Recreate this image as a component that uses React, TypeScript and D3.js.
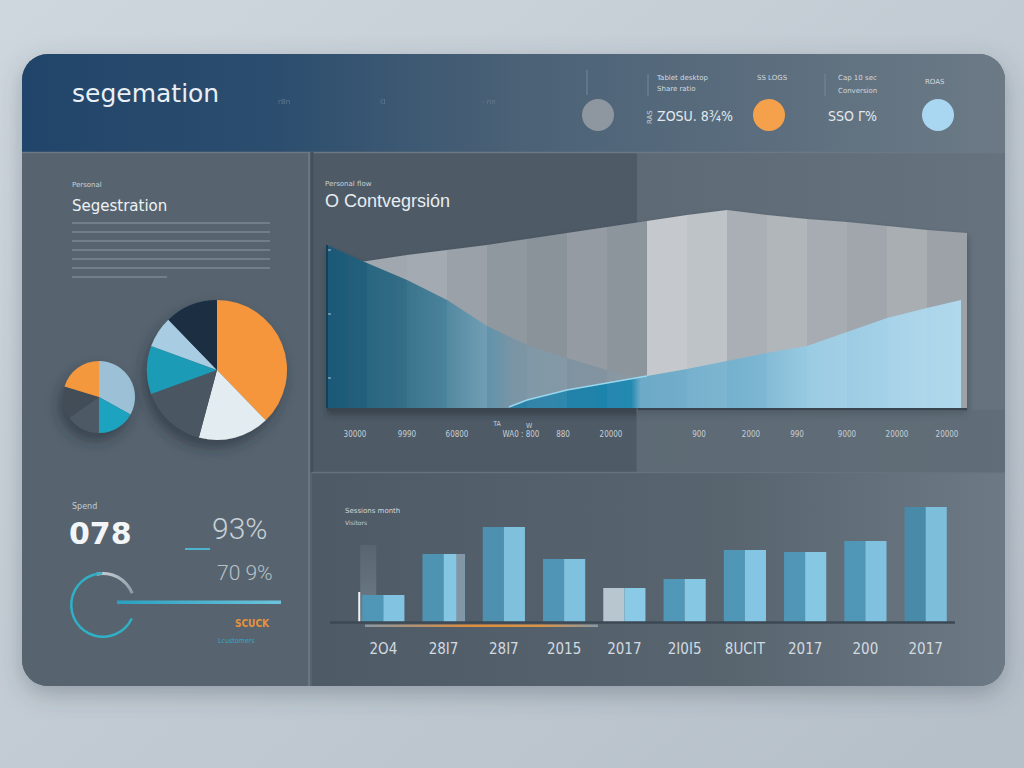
import React from "react";
import * as d3 from "d3";

// ---------- header stats ----------
const headerTitle = "segemation";
const headerTopLabels = ["Tablet desktop", "SS LOGS", "Cap 10 sec", "ROAS"];
const headerSubLabels = ["Share ratio", "", "Conversion", ""];
const headerValues = ["ZOSU. 8¾%", "SSO Γ%"];
const headerDotColors = ["#8e979f", "#f5a14c", "#a9d6f0"];

// ---------- segmentation pies ----------
const bigPieNames = ["A", "B", "C", "D", "E", "F"];
const bigPieValues = [136, 59, 55, 40, 26, 44];
const bigPieColors = ["#f5963c", "#e3ecf1", "#4b5763", "#1e9bb6", "#a8cde2", "#1b2e43"];
const smallPieValues = [119, 61, 55, 52, 73];
const smallPieColors = ["#9cc1d6", "#1fa3bf", "#4e5a66", "#434e59", "#f4983e"];

// ---------- conversion chart ----------
const convGray = [71.5, 73.5, 76.5, 79, 81.5, 84.5, 87.5, 90.5, 93.5, 96.5, 99, 96.5, 94.5, 93, 91, 89, 87.5];
const convTeal = [81.5, 72.5, 64, 54, 41, 31.5, 25, 19, 14];
const convBlueAt = [4.55, 5, 6, 7, 8, 9, 10, 11, 12, 13, 14, 15, 15.85];
const convBlue = [0.5, 4, 9, 12.5, 16, 19.5, 23.5, 27.5, 31, 38, 45, 50, 54];
const convStripeShades = ["#9aa2a9", "#a0a7ae", "#a3aab1", "#9aa1a8", "#8f979f", "#8a929a", "#949ba2", "#8d959c", "#c5c9ce", "#bec3c8", "#a9afb5", "#b1b6bb", "#a6acb2", "#a0a6ac", "#a9aeb3", "#9ca2a8"];
const convStripeGlow = [0, 0.04, 0.07, 0.12, 0.02, 0.05, 0, 0.04, 0.03, 0.06, 0, 0.05, 0.09, 0.03, 0.06, 0.02];
const convTickAt = [0.7, 2.0, 3.25, 4.85, 5.9, 7.1, 9.3, 10.6, 11.75, 13.0, 14.25, 15.5];
const convTickLabels = ["30000", "9990", "60800", "WA0 : 800", "880", "20000", "900", "2000", "990", "9000", "20000", "20000"];

// ---------- sessions bars ----------
const barYears = ["2O4", "28I7", "28I7", "2015", "2017", "2I0I5", "8UCIT", "2017", "200", "2017"];
const barValues = [27, 68, 95, 63, 34, 43, 72, 70, 81, 115];
const barLeftColors = ["#5096b6", "#4f93b3", "#4d90b0", "#5095b5", "#b7c6cf", "#5197b7", "#5096b6", "#5096b6", "#5097b7", "#4a8aa9"];
const barRightColors = ["#82c3e1", "#85c6e3", "#7fc0dd", "#80c1df", "#8acae6", "#86c7e4", "#84c5e3", "#86c7e4", "#80c1df", "#7dbedb"];

// ---------- KPI block ----------
const kpiLabel = "Spend";
const kpiValue = "078";
const kpiPct1 = "93%";
const kpiPct2 = "70 9%";
const kpiNote1 = "SCUCK";
const kpiNote2 = "Lcustomers";
const gaugeValue = 0.68;

export default function App() {
  // pies
  const bigPie = d3.pie<number>().sort(null).value((d) => d)(bigPieValues);
  const bigArc = d3.arc<d3.PieArcDatum<number>>().innerRadius(0).outerRadius(70);
  const smallPie = d3.pie<number>().sort(null).value((d) => d)(smallPieValues);
  const smallArc = d3.arc<d3.PieArcDatum<number>>().innerRadius(0).outerRadius(36);

  // conversion chart scales
  const cx = d3.scaleLinear().domain([0, 16]).range([327, 967]);
  const cy = d3.scaleLinear().domain([0, 100]).range([408, 208]);
  const grayPath = d3.area<number>().x((_, i) => cx(i)).y0(cy(0)).y1((d) => cy(d))(convGray) || "";
  const grayLine = d3.line<number>().x((_, i) => cx(i)).y((d) => cy(d))(convGray.slice(1)) ;
  const tealPath = d3.area<number>().x((_, i) => cx(i)).y0(cy(0)).y1((d) => cy(d))(convTeal) || "";
  const bluePath = d3.area<number>().x((_, i) => cx(convBlueAt[i])).y0(cy(0)).y1((d) => cy(d))(convBlue) || "";
  const blueLine = d3.line<number>().x((_, i) => cx(convBlueAt[i])).y((d) => cy(d))(convBlue.slice(0, 5)) || "";

  // bars
  const bx = d3.scaleBand<number>().domain(d3.range(barValues.length)).range([355, 954]).paddingInner(0.3).paddingOuter(0.12);
  const by = d3.scaleLinear().domain([0, 120]).range([622, 502]);
  const bw = bx.bandwidth();

  // gauge
  const gaugeTeal = d3.arc()({ innerRadius: 30.5, outerRadius: 33, startAngle: (115 * Math.PI) / 180, endAngle: (115 + 245 * gaugeValue / 0.68 * 0.995) * Math.PI / 180 }) || "";
  const gaugeGray = d3.arc()({ innerRadius: 30, outerRadius: 33, startAngle: (-12 * Math.PI) / 180, endAngle: (68 * Math.PI) / 180 }) || "";

  const sans = "'DejaVu Sans', 'Open Sans', sans-serif";
  const arial = "'Liberation Sans', Arial, sans-serif";
  const narrow = "'Liberation Sans Narrow', 'DejaVu Sans Condensed', 'Liberation Sans', sans-serif";

  return (
    <div style={{ position: "fixed", left: 0, top: 0, width: 1024, height: 768 }}>
      <svg width={1024} height={768} viewBox="0 0 1024 768" style={{ display: "block" }}>
        <defs>
          <linearGradient id="pageBg" x1="0" y1="0" x2="1" y2="1">
            <stop offset="0%" stopColor="#cfd7de" />
            <stop offset="100%" stopColor="#b5bfc8" />
          </linearGradient>
          <linearGradient id="headerBg" x1="0" y1="0" x2="1" y2="0">
            <stop offset="0%" stopColor="#21456a" />
            <stop offset="25%" stopColor="#2b4d6e" />
            <stop offset="50%" stopColor="#4a6176" />
            <stop offset="100%" stopColor="#6c7a86" />
          </linearGradient>
          <linearGradient id="topRightBg" x1="0" y1="0" x2="1" y2="0">
            <stop offset="0%" stopColor="#56636f" />
            <stop offset="100%" stopColor="#66737e" />
          </linearGradient>
          <linearGradient id="bottomRightBg" x1="0" y1="0" x2="1" y2="0">
            <stop offset="0%" stopColor="#4e5b67" />
            <stop offset="60%" stopColor="#58656f" />
            <stop offset="100%" stopColor="#6d7a85" />
          </linearGradient>
          <linearGradient id="tealFill" x1="327" y1="0" x2="647" y2="0" gradientUnits="userSpaceOnUse">
            <stop offset="0%" stopColor="#1c5877" />
            <stop offset="22%" stopColor="#28667f" />
            <stop offset="38%" stopColor="#3e7b96" />
            <stop offset="50%" stopColor="#5e91aa" />
            <stop offset="58%" stopColor="#7893a4" />
            <stop offset="100%" stopColor="#88949e" />
          </linearGradient>
          <linearGradient id="blueFill" x1="509" y1="0" x2="962" y2="0" gradientUnits="userSpaceOnUse">
            <stop offset="0%" stopColor="#2a7ea3" />
            <stop offset="27%" stopColor="#1b85ae" />
            <stop offset="29%" stopColor="#67a7c5" />
            <stop offset="55%" stopColor="#7ab5d1" />
            <stop offset="65%" stopColor="#90c6e0" />
            <stop offset="100%" stopColor="#b1d9ed" />
          </linearGradient>
          <linearGradient id="gaugeBar" x1="0" y1="0" x2="1" y2="0">
            <stop offset="0%" stopColor="#2aa0c0" />
            <stop offset="100%" stopColor="#6dc3dc" />
          </linearGradient>
          <linearGradient id="orangeUnder" x1="0" y1="0" x2="1" y2="0">
            <stop offset="0%" stopColor="#8a97a3" />
            <stop offset="45%" stopColor="#e08c3b" />
            <stop offset="75%" stopColor="#d99447" />
            <stop offset="100%" stopColor="#8a97a3" />
          </linearGradient>
          <linearGradient id="ghostBar" x1="0" y1="0" x2="0" y2="1">
            <stop offset="0%" stopColor="#8a98a5" stopOpacity="0.15" />
            <stop offset="100%" stopColor="#8a98a5" stopOpacity="0.55" />
          </linearGradient>
          <linearGradient id="gaugeGrayGrad" x1="0" y1="0" x2="1" y2="1">
            <stop offset="0%" stopColor="#c9d0d6" />
            <stop offset="100%" stopColor="#8c98a2" />
          </linearGradient>
          <filter id="panelShadow" x="-10%" y="-10%" width="120%" height="130%">
            <feDropShadow dx="0" dy="8" stdDeviation="12" floodColor="#3a4652" floodOpacity="0.35" />
          </filter>
          <filter id="pieShadow" x="-40%" y="-40%" width="180%" height="180%">
            <feDropShadow dx="-4" dy="8" stdDeviation="7" floodColor="#222b34" floodOpacity="0.55" />
          </filter>
          <filter id="chartShadow" x="-5%" y="-5%" width="110%" height="120%">
            <feDropShadow dx="0" dy="4" stdDeviation="3" floodColor="#1f2830" floodOpacity="0.5" />
          </filter>
          <clipPath id="panelClip">
            <rect x={22} y={54} width={983} height={632} rx={26} ry={26} />
          </clipPath>
          <clipPath id="grayClip">
            <path d={grayPath} />
          </clipPath>
          <clipPath id="colorClip">
            <path d={tealPath} />
            <path d={bluePath} />
          </clipPath>
        </defs>

        {/* page background */}
        <rect x={0} y={0} width={1024} height={768} fill="url(#pageBg)" />

        {/* panel */}
        <rect x={22} y={54} width={983} height={632} rx={26} ry={26} fill="#57646f" filter="url(#panelShadow)" />
        <g clipPath="url(#panelClip)">
          <rect x={22} y={54} width={983} height={98} fill="url(#headerBg)" />
          <rect x={22} y={152} width={286} height={534} fill="#57646f" />
          <rect x={312} y={152} width={693} height={320} fill="url(#topRightBg)" />
          <rect x={312} y={152} width={325} height={320} fill="#4e5b67" />
          <rect x={312} y={472} width={693} height={214} fill="url(#bottomRightBg)" />
          <line x1={22} x2={1005} y1={152.5} y2={152.5} stroke="#6c7984" strokeWidth={1.5} />
          <line x1={309} x2={309} y1={152} y2={686} stroke="#6a7782" strokeWidth={2} />
          <line x1={312} x2={312} y1={152} y2={472} stroke="#44505b" strokeWidth={3} />
          <line x1={312} x2={1005} y1={472.5} y2={472.5} stroke="#66727d" strokeWidth={1.5} />
        </g>

        {/* header */}
        <text x={72} y={102} fontFamily={sans} fontSize={25} fill="#e9eff4">{headerTitle}</text>
        <text x={278} y={104} fontFamily={sans} fontSize={7} fill="#7f93a6" opacity={0.6}>rBn</text>
        <text x={380} y={104} fontFamily={sans} fontSize={9} fill="#8094a6" opacity={0.5}>ɑ</text>
        <text x={482} y={104} fontFamily={sans} fontSize={7} fill="#8094a6" opacity={0.5}>- nn</text>
        <line x1={587} x2={587} y1={70} y2={95} stroke="#7a8792" strokeWidth={1} />
        <line x1={648} x2={648} y1={74} y2={96} stroke="#7a8792" strokeWidth={1} />
        <line x1={825} x2={825} y1={74} y2={96} stroke="#7a8792" strokeWidth={1} />
        <circle cx={598} cy={115} r={16} fill={headerDotColors[0]} />
        <circle cx={769} cy={115} r={16} fill={headerDotColors[1]} />
        <circle cx={938} cy={115} r={16} fill={headerDotColors[2]} />
        <text x={657} y={80} fontFamily={sans} fontSize={7} fill="#d2d9df">{headerTopLabels[0]}</text>
        <text x={657} y={91} fontFamily={sans} fontSize={7} fill="#d2d9df">{headerSubLabels[0]}</text>
        <text x={757} y={80} fontFamily={sans} fontSize={7} fill="#d2d9df">{headerTopLabels[1]}</text>
        <text x={838} y={80} fontFamily={sans} fontSize={7} fill="#d2d9df">{headerTopLabels[2]}</text>
        <text x={838} y={93} fontFamily={sans} fontSize={7} fill="#d2d9df">{headerSubLabels[2]}</text>
        <text x={925} y={84} fontFamily={sans} fontSize={7} fill="#d2d9df">{headerTopLabels[3]}</text>
        <text x={0} y={0} transform="translate(652,124) rotate(-90)" fontFamily={sans} fontSize={7} fill="#c8d0d7">RAS</text>
        <text x={657} y={121} fontFamily={narrow} fontSize={14} fill="#e3e9ee">{headerValues[0]}</text>
        <text x={828} y={121} fontFamily={narrow} fontSize={14} fill="#e3e9ee">{headerValues[1]}</text>

        {/* segmentation */}
        <text x={72} y={187} fontFamily={sans} fontSize={7} fill="#c9d1d8">Personal</text>
        <text x={72} y={211} fontFamily={sans} fontSize={15} fill="#eef2f5">Segestration</text>
        {[223, 232, 241, 250, 259, 268].map((y) => (
          <line key={y} x1={72} x2={270} y1={y} y2={y} stroke="#8e9aa5" strokeWidth={1} />
        ))}
        <line x1={72} x2={167} y1={277} y2={277} stroke="#8e9aa5" strokeWidth={1} />

        <g filter="url(#pieShadow)">
          <g transform="translate(99,397)">
            {smallPie.map((d, i) => (
              <path key={i} d={smallArc(d) || ""} fill={smallPieColors[i]} />
            ))}
          </g>
        </g>
        <g filter="url(#pieShadow)">
          <g transform="translate(217,370)">
            {bigPie.map((d, i) => (
              <path key={bigPieNames[i]} d={bigArc(d) || ""} fill={bigPieColors[i]} />
            ))}
          </g>
        </g>

        {/* conversion chart */}
        <text x={325} y={186} fontFamily={sans} fontSize={7} fill="#c9d1d8">Personal flow</text>
        <text x={325} y={207} fontFamily={arial} fontSize={18} fill="#e8edf1">O Contvegrsión</text>

        <g filter="url(#chartShadow)">
          <rect x={cx(0)} y={cy(0)} width={cx(16) - cx(0)} height={3} fill="#3a4550" />
          <g clipPath="url(#grayClip)">
            {convStripeShades.map((c, i) => (
              <rect key={i} x={cx(i)} y={cy(100)} width={cx(i + 1) - cx(i) + 0.5} height={cy(0) - cy(100)} fill={c} />
            ))}
          </g>
          <path d={tealPath} fill="url(#tealFill)" />
          <path d={bluePath} fill="url(#blueFill)" />
          <g clipPath="url(#colorClip)">
            {convStripeGlow.map((o, i) => (
              <rect key={i} x={cx(i)} y={cy(100)} width={cx(i + 1) - cx(i)} height={cy(0) - cy(100)} fill="#ffffff" opacity={o} />
            ))}
          </g>
          <path d={blueLine} fill="none" stroke="#9ad6ee" strokeWidth={1.6} />
        </g>
        <line x1={cx(0)} x2={cx(0)} y1={cy(81.5)} y2={cy(0)} stroke="#163f57" strokeWidth={2} />
        {[250, 314, 378].map((y) => (
          <line key={y} x1={cx(0) + 1} x2={cx(0) + 4} y1={y} y2={y} stroke="#b9c6cf" strokeWidth={1} />
        ))}
        <line x1={637} x2={637} y1={408} y2={472} stroke="#5c6975" strokeWidth={1} />
        <rect x={637} y={410} width={368} height={62} fill="#5d6a75" opacity={0.6} />
        {convTickLabels.map((t, i) => (
          <text key={i} x={cx(convTickAt[i])} y={437} textAnchor="middle" fontFamily={narrow} fontSize={8} fill="#c5ced5">{t}</text>
        ))}
        <text x={497} y={426} textAnchor="middle" fontFamily={narrow} fontSize={7} fill="#c5ced5">TA</text>
        <text x={529} y={428} textAnchor="middle" fontFamily={narrow} fontSize={7} fill="#c5ced5">W</text>

        {/* KPI block */}
        <text x={72} y={509} fontFamily={sans} fontSize={8} fill="#c4ccd3">{kpiLabel}</text>
        <text x={69} y={544} fontFamily={sans} fontWeight="bold" fontSize={30} fill="#f3f6f8">{kpiValue}</text>
        <text x={212} y={539} fontFamily="Roboto, sans-serif" fontWeight={300} fontSize={30} fill="#c8d0d7">{kpiPct1}</text>
        <line x1={185} x2={210} y1={549} y2={549} stroke="#4eb4cd" strokeWidth={2} />
        <text x={217} y={580} fontFamily="Roboto, sans-serif" fontWeight={300} fontSize={21} fill="#b9c2ca">{kpiPct2}</text>
        <g transform="translate(103,605)">
          <path d={gaugeGray} fill="url(#gaugeGrayGrad)" />
          <path d={gaugeTeal} fill="#2fb0c6" />
        </g>
        <rect x={117} y={600.5} width={164} height={3.5} fill="url(#gaugeBar)" />
        <text x={235} y={627} fontFamily={narrow} fontWeight="bold" fontSize={10} fill="#e8923b">{kpiNote1}</text>
        <text x={218} y={643} fontFamily={narrow} fontSize={7} fill="#36a6c6">{kpiNote2}</text>

        {/* sessions bar chart */}
        <text x={345} y={513} fontFamily={sans} fontSize={7} fill="#d1d8de">Sessions month</text>
        <text x={345} y={525} fontFamily={sans} fontSize={6} fill="#c3ccd3">Visitors</text>
        <rect x={bx(0)! - 2} y={by(77)} width={bw * 0.38} height={by(0) - by(77)} fill="url(#ghostBar)" />
        {barValues.map((v, i) => {
          const x0 = bx(i)!;
          return (
            <g key={i}>
              <rect x={x0} y={by(v)} width={bw / 2} height={by(0) - by(v)} fill={barLeftColors[i]} />
              <rect x={x0 + bw / 2} y={by(v)} width={bw / 2} height={by(0) - by(v)} fill={barRightColors[i]} />
              {i === 1 ? <rect x={x0 + bw * 0.8} y={by(v)} width={bw * 0.2} height={by(0) - by(v)} fill="#8296a6" /> : null}
            </g>
          );
        })}
        <line x1={bx(0)! - 3} x2={bx(0)! - 3} y1={by(30)} y2={by(0)} stroke="#eef3f6" strokeWidth={2} />
        <line x1={330} x2={955} y1={622.5} y2={622.5} stroke="#3c4853" strokeWidth={2.5} />
        <rect x={365} y={624.5} width={233} height={2.5} fill="url(#orangeUnder)" />
        {barYears.map((t, i) => (
          <text key={i} x={bx(i)! + bw / 2} y={654} textAnchor="middle" fontFamily={narrow} fontSize={15} fill="#d3dae0">{t}</text>
        ))}
      </svg>
    </div>
  );
}
